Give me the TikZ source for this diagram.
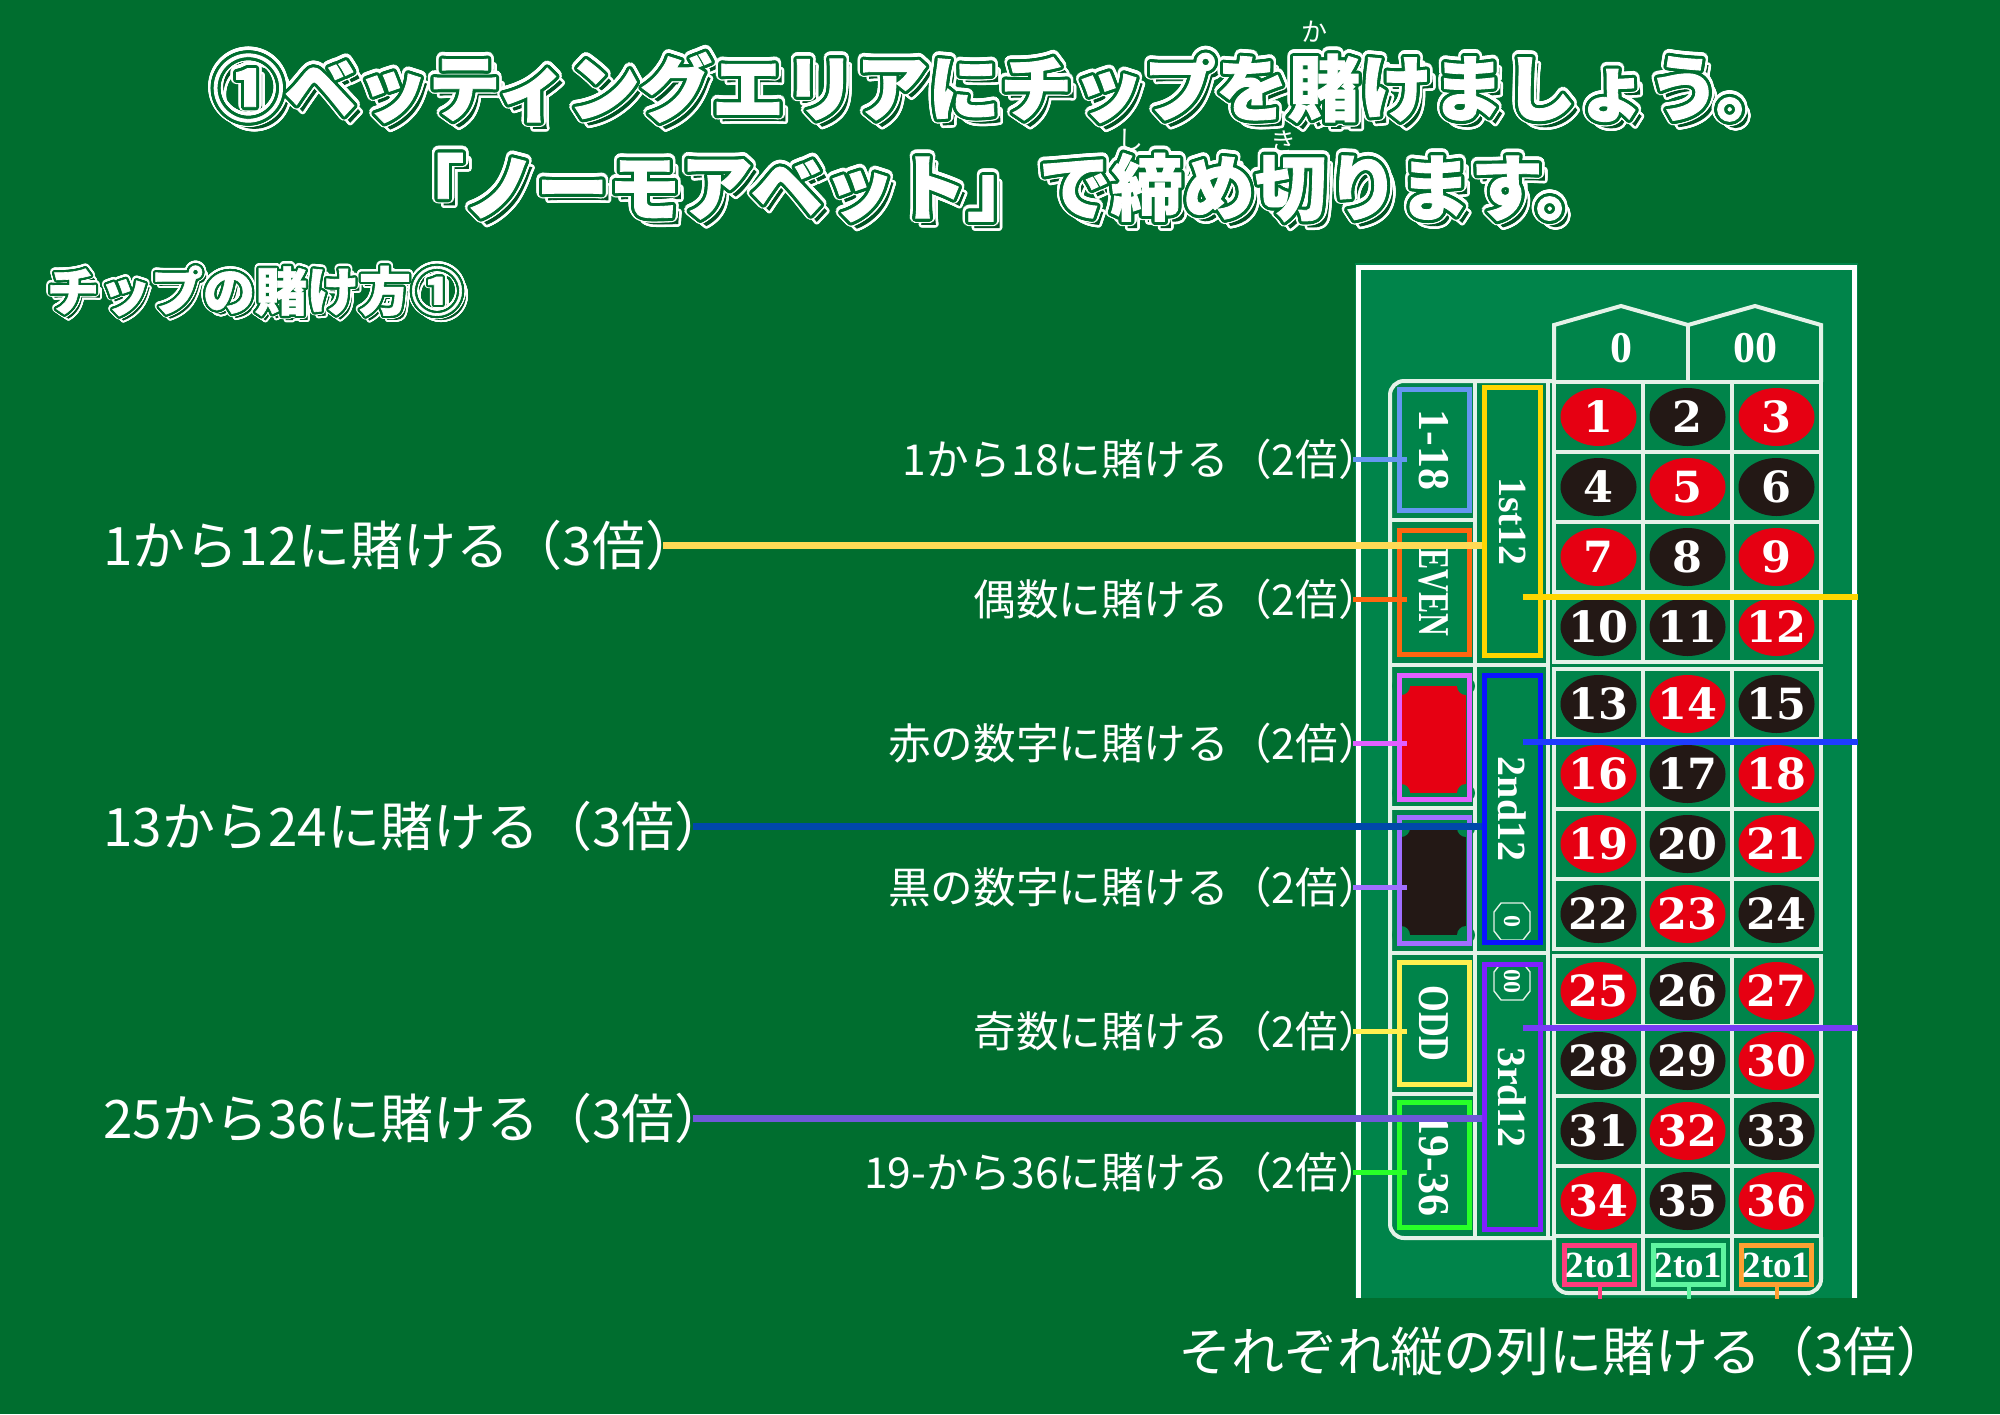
\documentclass[tikz,border=0pt]{standalone}
\usepackage{fontspec}
\usepackage[copies]{contour}
\usetikzlibrary{calc,shapes.geometric}
\newfontfamily\jpf{Noto Sans CJK JP}
\newfontfamily\jph{Noto Sans CJK JP}[FakeBold=1.2]
\newfontfamily\numf{DejaVu Serif}
\newfontfamily\serf{Liberation Serif}
\contournumber{24}
\definecolor{bgc}{RGB}{0,110,47}
\definecolor{tablec}{RGB}{0,132,74}
\definecolor{gridw}{RGB}{228,242,232}
\definecolor{redc}{RGB}{230,0,18}
\definecolor{blkc}{RGB}{35,24,21}
\definecolor{shadc}{RGB}{0,84,36}
\definecolor{c118}{RGB}{100,150,240}
\definecolor{ceven}{RGB}{255,102,16}
\definecolor{cred}{RGB}{224,96,255}
\definecolor{cblk}{RGB}{160,110,255}
\definecolor{codd}{RGB}{255,240,80}
\definecolor{c1936}{RGB}{40,255,40}
\definecolor{c1st}{RGB}{255,214,0}
\definecolor{c2nd}{RGB}{10,20,255}
\definecolor{c3rd}{RGB}{128,32,255}
\definecolor{cl1}{RGB}{255,218,85}
\definecolor{cl2}{RGB}{0,72,170}
\definecolor{cl3}{RGB}{110,88,215}
\definecolor{cg2}{RGB}{30,60,255}
\definecolor{cg3}{RGB}{120,60,245}
\definecolor{cpk}{RGB}{255,60,125}
\definecolor{cmint}{RGB}{95,245,160}
\definecolor{cor}{RGB}{255,160,50}
\tikzset{
  ttl/.style={inner sep=0pt, text=white, font=\jph\bfseries\fontsize{36pt}{40pt}\selectfont},
  hdg/.style={inner sep=0pt, text=white, font=\jph\bfseries\fontsize{26pt}{30pt}\selectfont},
  furi/.style={inner sep=0pt, text=white, font=\jpf\fontsize{13pt}{14pt}\selectfont},
  biglbl/.style={inner sep=0pt, text=white, font=\jpf\fontsize{26.5pt}{30pt}\selectfont},
  smllbl/.style={inner sep=0pt, text=white, font=\jpf\fontsize{21.3pt}{24pt}\selectfont},
  gridl/.style={draw=gridw, line width=2pt},
  numell/.style={ellipse, inner sep=0pt, minimum width=38pt, minimum height=29pt, text=white,
     font=\numf\bfseries\fontsize{21.5pt}{21.5pt}\selectfont},
  serb/.style={inner sep=0pt, text=white, font=\serf\bfseries\fontsize{22pt}{22pt}\selectfont},
  obox/.style={draw=#1, line width=2.5pt, inner sep=0pt, minimum width=35pt, text=white,
     font=\serf\bfseries\fontsize{22pt}{22pt}\selectfont},
  dbox/.style={draw=#1, line width=2.5pt, inner sep=0pt, minimum width=28pt, text=white,
     font=\serf\bfseries\fontsize{20pt}{20pt}\selectfont},
  tbox/.style={draw=#1, line width=2.5pt, inner sep=0pt, minimum width=35pt, minimum height=19.5pt,
     text=white, font=\serf\bfseries\fontsize{18.5pt}{18.5pt}\selectfont},
  smcon/.style={draw=#1, line width=2.5pt},
  bgcon/.style={draw=#1, line width=3.5pt},
  grcon/.style={draw=#1, line width=3pt},
}
\begin{document}
\begin{tikzpicture}[x=0.5pt,y=-0.5pt]
\useasboundingbox (0,0) rectangle (2000,1414);
\fill[bgc] (0,0) rectangle (2000,1414);

% ---------- titles ----------
\node[ttl, text=shadc] (t1s) at (1006,95) {\contourlength{1.3pt}\contour{white}{①ベッティングエリアにチップを賭けましょう。}};
\node[ttl] (t1w) at (1000,89) {\contourlength{2.8pt}\contour{white}{①ベッティングエリアにチップを賭けましょう。}};
\node[ttl] (t1) at (1000,89) {\contourlength{1.5pt}\contour{bgc}{①ベッティングエリアにチップを賭けましょう。}};
\node[ttl, text=shadc] (t2s) at (1006,195) {\contourlength{1.3pt}\contour{white}{「ノーモアベット」で締め切ります。}};
\node[ttl] (t2w) at (1000,189) {\contourlength{2.8pt}\contour{white}{「ノーモアベット」で締め切ります。}};
\node[ttl] (t2) at (1000,189) {\contourlength{1.5pt}\contour{bgc}{「ノーモアベット」で締め切ります。}};
\node[furi] (rka) at (1314,32) {か};
\node[furi] (rshi) at (1130,140) {し};
\node[furi] (rki) at (1283,142) {き};

\node[hdg, text=shadc] (hs) at (259,296) {\contourlength{1pt}\contour{white}{チップの賭け方①}};
\node[hdg] (hw) at (255,292) {\contourlength{2pt}\contour{white}{チップの賭け方①}};
\node[hdg] (h) at (255,292) {\contourlength{1.1pt}\contour{bgc}{チップの賭け方①}};

% ---------- table ----------
\fill[tablec] (1355,263) rectangle (1858,1298);
\draw[white, line width=2.5pt] (1358,1298) -- (1358,267) -- (1854,267) -- (1854,1298);

% zero header
\draw[gridl, line join=miter] (1554,382) -- (1554,325) -- (1621,306) -- (1688,325) -- (1755,306) -- (1821,325) -- (1821,382);
\draw[gridl] (1688,325) -- (1688,382);
\node[serb] (z0) at (1621,348) {0};
\node[serb] (z00) at (1755,348) {00};

% outside frame
\draw[gridl, rounded corners=7pt] (1554,381) -- (1390,381) -- (1390,1238) -- (1554,1238);
\draw[gridl] (1475,381) -- (1475,1238);
\draw[gridl] (1548,381) -- (1548,1238);
\foreach \yy in {520,808,1094} \draw[gridl] (1390,\yy) -- (1475,\yy);
\foreach \yy in {665,953} \draw[gridl] (1390,\yy) -- (1548,\yy);

% 2 to 1 row frame
\draw[gridl, rounded corners=7pt] (1554,1237) -- (1554,1293) -- (1821,1293) -- (1821,1237);
\draw[gridl] (1643,1237) -- (1643,1293);
\draw[gridl] (1732,1237) -- (1732,1293);

% number cells
\foreach \n/\col in {1/redc,2/blkc,3/redc,4/blkc,5/redc,6/blkc,7/redc,8/blkc,9/redc,10/blkc,11/blkc,12/redc,
  13/blkc,14/redc,15/blkc,16/redc,17/blkc,18/redc,19/redc,20/blkc,21/redc,22/blkc,23/redc,24/blkc,
  25/redc,26/blkc,27/redc,28/blkc,29/blkc,30/redc,31/blkc,32/redc,33/blkc,34/redc,35/blkc,36/redc}{
  \pgfmathtruncatemacro\gi{(\n-1)/12}
  \pgfmathtruncatemacro\ri{mod(\n-1,12)/3}
  \pgfmathtruncatemacro\ci{mod(\n-1,3)}
  \pgfmathsetmacro\cx{1554+89*\ci}
  \pgfmathsetmacro\cy{382+287*\gi+70*\ri}
  \draw[gridl] (\cx,\cy) rectangle ++(89,70);
  \node[numell, fill=\col] (n\n) at (\cx+44.5,\cy+35) {\makebox[0pt]{\n}};
}

% red / black patches
\fill[redc] (1401,686) rectangle (1466,793);
\foreach \p in {(1401,686),(1466,686),(1401,793),(1466,793)} \fill[tablec] \p circle[radius=4.5pt];
\fill[blkc] (1401,828) rectangle (1466,935);
\foreach \p in {(1401,828),(1466,828),(1401,935),(1466,935)} \fill[tablec] \p circle[radius=4.5pt];

% small 0 / 00 markers
\draw[gridw, line width=0.7pt] (1501,903) -- (1523,903) -- (1530,912) -- (1530,931) -- (1523,940) -- (1501,940) -- (1494,931) -- (1494,912) -- cycle;
\node[serb, font=\serf\bfseries\fontsize{12pt}{12pt}\selectfont, rotate=-90] (m0) at (1512,921) {0};
\draw[gridw, line width=0.7pt] (1501,963) -- (1523,963) -- (1530,972) -- (1530,991) -- (1523,1000) -- (1501,1000) -- (1494,991) -- (1494,972) -- cycle;
\node[serb, font=\serf\bfseries\fontsize{12pt}{12pt}\selectfont, rotate=-90] (m00) at (1512,981) {00};

% outside boxes
\node[obox=c118, minimum height=60.5pt] (b1) at (1434,450) {\rotatebox{-90}{1-18}};
\node[obox=ceven, minimum height=62pt] (b2) at (1434,592.5) {\rotatebox{-90}{\scalebox{0.72}[1]{EVEN}}};
\node[obox=cred, minimum height=62pt] (b3) at (1434,737.5) {};
\node[obox=cblk, minimum height=63pt] (b4) at (1434,880.5) {};
\node[obox=codd, minimum height=61pt] (b5) at (1434,1023.5) {\rotatebox{-90}{\scalebox{0.78}[1]{ODD}}};
\node[obox=c1936, minimum height=62.5pt] (b6) at (1434,1165) {\rotatebox{-90}{19-36}};
\node[dbox=c1st, minimum height=134pt] (d1) at (1512.5,521.5) {\rotatebox{-90}{1st12}};
\node[dbox=c2nd, minimum height=133.5pt] (d2) at (1512.5,809) {\rotatebox{-90}{2nd12}};
\node[dbox=c3rd, minimum height=132.5pt] (d3) at (1512.5,1097) {\rotatebox{-90}{3rd12}};

% 2 to 1 boxes
\node[tbox=cpk] (k1) at (1599.5,1265) {2to1};
\node[tbox=cmint] (k2) at (1688.5,1265) {2to1};
\node[tbox=cor] (k3) at (1776.5,1265) {2to1};
\coordinate (tb) at (1700,1299);
\draw[cpk, line width=2pt] (k1.south) -- (k1.south |- tb);
\draw[cmint, line width=2pt] (k2.south) -- (k2.south |- tb);
\draw[cor, line width=2pt] (k3.south) -- (k3.south |- tb);

% ---------- labels ----------
\node[biglbl, anchor=west] (L1) at (103,545) {1から12に賭ける（3倍）};
\node[biglbl, anchor=west] (L2) at (103,826) {13から24に賭ける（3倍）};
\node[biglbl, anchor=west] (L3) at (103,1118) {25から36に賭ける（3倍）};
\node[smllbl, anchor=east] (S1) at (1381,459) {1から18に賭ける（2倍）};
\node[smllbl, anchor=east] (S2) at (1381,599) {偶数に賭ける（2倍）};
\node[smllbl, anchor=east] (S3) at (1381,743) {赤の数字に賭ける（2倍）};
\node[smllbl, anchor=east] (S4) at (1381,887) {黒の数字に賭ける（2倍）};
\node[smllbl, anchor=east] (S5) at (1381,1031) {奇数に賭ける（2倍）};
\node[smllbl, anchor=east] (S6) at (1381,1172) {19-から36に賭ける（2倍）};
\node[biglbl, anchor=west] (BC) at (1178,1351) {それぞれ縦の列に賭ける（3倍）};

% ---------- connectors ----------
\draw[smcon=c118] ([xshift=-14pt]S1.east) -- ([xshift=5pt]b1.west |- S1.east);
\draw[smcon=ceven] ([xshift=-14pt]S2.east) -- ([xshift=5pt]b2.west |- S2.east);
\draw[smcon=cred] ([xshift=-14pt]S3.east) -- ([xshift=5pt]b3.west |- S3.east);
\draw[smcon=cblk] ([xshift=-14pt]S4.east) -- ([xshift=5pt]b4.west |- S4.east);
\draw[smcon=codd] ([xshift=-14pt]S5.east) -- ([xshift=5pt]b5.west |- S5.east);
\draw[smcon=c1936] ([xshift=-14pt]S6.east) -- ([xshift=5pt]b6.west |- S6.east);
\draw[bgcon=cl1] ([xshift=-17.5pt]L1.east) -- (d1.west |- L1.east);
\draw[bgcon=cl2] ([xshift=-17.5pt]L2.east) -- (d2.west |- L2.east);
\draw[bgcon=cl3] ([xshift=-17.5pt]L3.east) -- (d3.west |- L3.east);
\coordinate (r1) at (1858,597);
\coordinate (r2) at (1858,742);
\coordinate (r3) at (1858,1028);
\draw[grcon=c1st] ([xshift=5pt]d1.center |- r1) -- (r1);
\draw[grcon=cg2] ([xshift=5pt]d2.center |- r2) -- (r2);
\draw[grcon=cg3] ([xshift=5pt]d3.center |- r3) -- (r3);
\end{tikzpicture}
\end{document}
